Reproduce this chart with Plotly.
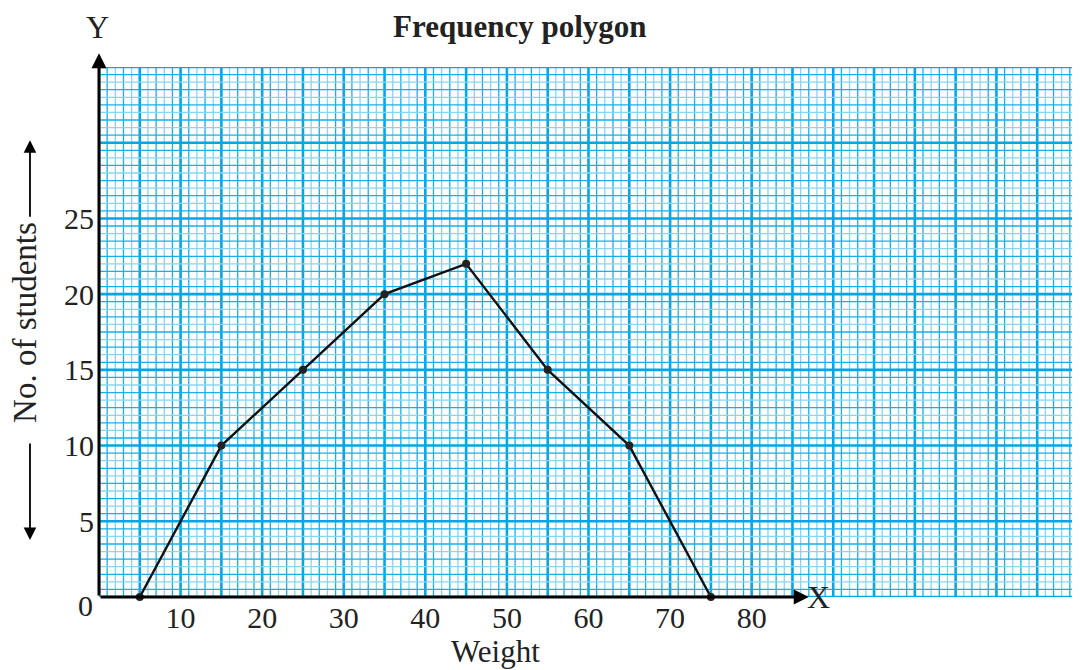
import plotly.graph_objects as go

# class-interval mid points (kg) and frequencies
weights = [5, 15, 25, 35, 45, 55, 65, 75]
students = [0, 10, 15, 20, 22, 15, 10, 0]

x_ticks = [10, 20, 30, 40, 50, 60, 70, 80]
y_ticks = [5, 10, 15, 20, 25]

X_MAX = 120
Y_MAX = 35

SERIF = "Liberation Serif, Times New Roman, serif"
DARK = "#19AEEA"
LIGHT = "#8AD4F2"
HEAVY = "#05A6E6"


def grid_shapes():
    shapes = []
    # vertical lines every 1 unit, heavier every 5
    for i in range(0, X_MAX + 1):
        if i % 5 == 0:
            color, width = HEAVY, 2.6
        elif i % 2:
            color, width = DARK, 1.3
        else:
            color, width = LIGHT, 1.3
        shapes.append(dict(type="line", xref="x", yref="y", x0=i, x1=i,
                           y0=0, y1=Y_MAX, line=dict(color=color, width=width),
                           layer="below"))
    # horizontal lines every 0.5 unit, heavier every 5
    for k in range(0, Y_MAX * 2 + 1):
        y = k / 2
        if k % 10 == 0:
            color, width = HEAVY, 2.6
        elif k % 2:
            color, width = DARK, 1.3
        else:
            color, width = LIGHT, 1.3
        shapes.append(dict(type="line", xref="x", yref="y", x0=0, x1=X_MAX,
                           y0=y, y1=y, line=dict(color=color, width=width),
                           layer="below"))
    return shapes


fig = go.Figure()
fig.add_trace(go.Scatter(
    x=weights, y=students,
    mode="lines+markers",
    line=dict(color="#111", width=2.4),
    marker=dict(color="#222", size=8),
    showlegend=False,
    cliponaxis=False,
))

annotations = [
    # axes with arrow heads
    dict(x=0, y=35.9, ax=0, ay=0, xref="x", yref="y", axref="x", ayref="y",
         showarrow=True, arrowhead=2, arrowsize=1, arrowwidth=3, arrowcolor="black", text=""),
    dict(x=87, y=0, ax=0, ay=0, xref="x", yref="y", axref="x", ayref="y",
         showarrow=True, arrowhead=2, arrowsize=1, arrowwidth=3, arrowcolor="black", text=""),
    dict(x=88.2, y=0, xref="x", yref="y", text="X", showarrow=False,
         font=dict(family=SERIF, size=32, color="#222"), xanchor="center", yanchor="middle"),
    dict(x=-0.002, y=1.076, xref="paper", yref="paper", text="Y", showarrow=False,
         font=dict(family=SERIF, size=32, color="#222"), xanchor="center", yanchor="middle"),
    dict(x=-0.014, y=-0.016, xref="paper", yref="paper", text="0", showarrow=False,
         font=dict(family=SERIF, size=30, color="#222"), xanchor="center", yanchor="middle"),
    # title and axis titles
    dict(x=0.43, y=1.1113, xref="paper", yref="paper", text="<b>Frequency polygon</b>",
         showarrow=False, font=dict(family=SERIF, size=31, color="#222"),
         xanchor="center", yanchor="top", borderpad=0),
    dict(x=0.4055, y=-0.137, xref="paper", yref="paper", text="Weight",
         showarrow=False, font=dict(family=SERIF, size=31, color="#222"),
         xanchor="center", yanchor="bottom", borderpad=0),
    dict(x=-0.0756, y=0.519, xref="paper", yref="paper", text="No. of students",
         textangle=-90, showarrow=False, font=dict(family=SERIF, size=33, color="#222"),
         xanchor="center", yanchor="middle"),
    # arrows beside the y-axis title
    dict(x=-0.0705, y=0.862, xref="paper", yref="paper", ax=0, ay=78, text="",
         showarrow=True, arrowhead=2, arrowsize=1.4, arrowwidth=1.8, arrowcolor="black"),
    dict(x=-0.0705, y=0.1075, xref="paper", yref="paper", ax=0, ay=-98, text="",
         showarrow=True, arrowhead=2, arrowsize=1.4, arrowwidth=1.8, arrowcolor="black"),
]

# the page body adds an 8px offset, so the figure is a little smaller than the window
fig.update_layout(
    width=1072, height=662,
    margin=dict(l=91, r=2, t=59, b=73),
    paper_bgcolor="white",
    plot_bgcolor="white",
    shapes=grid_shapes(),
    annotations=annotations,
    xaxis=dict(range=[0, X_MAX], showgrid=False, zeroline=False, showline=False,
               tickvals=x_ticks, ticks="", ticklabelstandoff=0,
               tickfont=dict(family=SERIF, size=30, color="#222")),
    yaxis=dict(range=[0, Y_MAX], showgrid=False, zeroline=False, showline=False,
               tickvals=y_ticks, ticks="", ticklabelstandoff=4,
               tickfont=dict(family=SERIF, size=30, color="#222")),
)

fig.write_html("out.html")
